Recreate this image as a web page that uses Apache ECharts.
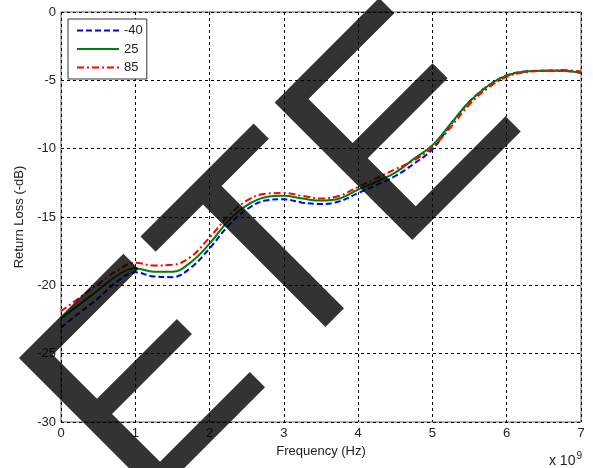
<!DOCTYPE html>
<html>
<head>
<meta charset="utf-8">
<script src="https://cdn.jsdelivr.net/npm/echarts@6/dist/echarts.min.js"></script>
<style>
html,body{margin:0;padding:0;background:#fff;}
#chart{width:593px;height:468px;}
</style>
</head>
<body>
<div id="chart"></div>
<script>
var freqGHz = [0,0.25,0.5,0.75,1,1.25,1.5,1.75,2,2.25,2.5,2.75,3,3.25,3.5,3.75,4,4.25,4.5,4.75,5,5.25,5.5,5.75,6,6.25,6.5,6.75,7];
var rlMinus40 = [-23.1,-22.0,-20.95,-19.75,-19.05,-19.35,-19.4,-18.7,-17.3,-15.65,-14.45,-13.8,-13.7,-13.95,-14.05,-13.85,-13.25,-12.65,-12.0,-11.1,-10.05,-8.2,-6.55,-5.4,-4.65,-4.35,-4.3,-4.3,-4.45];
var rl25 = [-22.4,-21.4,-20.35,-19.3,-18.75,-19.0,-19.0,-18.3,-16.95,-15.3,-14.15,-13.55,-13.45,-13.65,-13.8,-13.65,-13.0,-12.4,-11.75,-10.75,-9.75,-8.15,-6.55,-5.4,-4.65,-4.35,-4.3,-4.3,-4.45];
var rl85 = [-21.9,-20.9,-19.9,-18.95,-18.35,-18.55,-18.5,-17.9,-16.5,-14.95,-13.8,-13.3,-13.25,-13.45,-13.65,-13.45,-12.8,-12.15,-11.5,-10.85,-9.9,-8.4,-6.75,-5.55,-4.75,-4.4,-4.3,-4.25,-4.35];
var seriesNames = ['-40','25','85'];
var xTickLabels = ['0','1','2','3','4','5','6','7'];
var yTickLabels = ['-30','-25','-20','-15','-10','-5','0'];
var xAxisTitle = 'Frequency (Hz)';
var yAxisTitle = 'Return Loss (-dB)';
var watermarkText = 'ETE';

function pairs(xs, ys){ return xs.map(function(x,i){ return [x, ys[i]]; }); }

var FONT = '"Liberation Sans", Arial, sans-serif';
var chart = echarts.init(document.getElementById('chart'), null, {renderer:'canvas'});
var option = {
  animation: false,
  backgroundColor: '#fff',
  grid: {left: 61, right: 12, top: 12, bottom: 46, show: true, borderColor: '#666', borderWidth: 1, backgroundColor: 'transparent'},
  xAxis: {
    type: 'value', min: 0, max: 7, interval: 1,
    name: xAxisTitle, nameLocation: 'middle', nameGap: 22,
    nameTextStyle: {fontFamily: FONT, fontSize: 13, color: '#222'},
    axisLine: {show: false}, axisTick: {show: false},
    axisLabel: {margin: 5, fontFamily: FONT, fontSize: 13, color: '#222',
      formatter: function(v){ return xTickLabels[Math.round(v)]; }},
    splitLine: {show: true, lineStyle: {color: '#000', width: 1, type: [3,3]}}
  },
  yAxis: {
    type: 'value', min: -30, max: 0, interval: 5,
    name: yAxisTitle, nameLocation: 'middle', nameGap: 32, nameRotate: 90,
    nameTextStyle: {fontFamily: FONT, fontSize: 13, color: '#222'},
    axisLine: {show: false}, axisTick: {show: false},
    axisLabel: {margin: 5, fontFamily: FONT, fontSize: 13, color: '#222',
      formatter: function(v){ return yTickLabels[Math.round((v + 30) / 5)]; }},
    splitLine: {show: true, lineStyle: {color: '#000', width: 1, type: [3,3]}}
  },
  legend: {
    orient: 'vertical', left: 68, top: 19,
    itemWidth: 42, itemHeight: 14, itemGap: 5.5,
    padding: [5, 4, 5, 8],
    backgroundColor: '#fff', borderColor: '#333', borderWidth: 1, borderRadius: 0,
    itemStyle: {opacity: 0},
    textStyle: {fontFamily: FONT, fontSize: 13, color: '#222', width: 20, align: 'right'},
    data: seriesNames
  },
  series: [
    {name: seriesNames[0], type: 'line', data: pairs(freqGHz, rlMinus40), smooth: 0.4, symbol: 'none',
      itemStyle: {color: '#0000ff'}, lineStyle: {color: '#0000ff', width: 2, type: [6,3]}},
    {name: seriesNames[1], type: 'line', data: pairs(freqGHz, rl25), smooth: 0.4, symbol: 'none',
      itemStyle: {color: '#008000'}, lineStyle: {color: '#008000', width: 2, type: 'solid'}},
    {name: seriesNames[2], type: 'line', data: pairs(freqGHz, rl85), smooth: 0.4, symbol: 'none',
      itemStyle: {color: '#ff0000'}, lineStyle: {color: '#ff0000', width: 2, type: [7,3,2,3]}}
  ],
  graphic: [
    {type: 'text', right: 11, bottom: 0, z: 10,
      style: {text: '{a|x 10}{b|9}', fill: '#222',
        rich: {a: {fontFamily: FONT, fontSize: 14, color: '#222'},
               b: {fontFamily: FONT, fontSize: 10, color: '#222', verticalAlign: 'top', padding: [0,0,9,1]}}}},
    {type: 'text', x: 85, y: 457, rotation: Math.PI / 4, z: 200, silent: true,
      style: {text: watermarkText, font: '283px "Liberation Sans", Arial, sans-serif',
        fill: 'rgba(0,0,0,0.8)', textAlign: 'left', textVerticalAlign: 'middle', align: 'left', verticalAlign: 'middle'}}
  ]
};
chart.setOption(option);
</script>
</body>
</html>
